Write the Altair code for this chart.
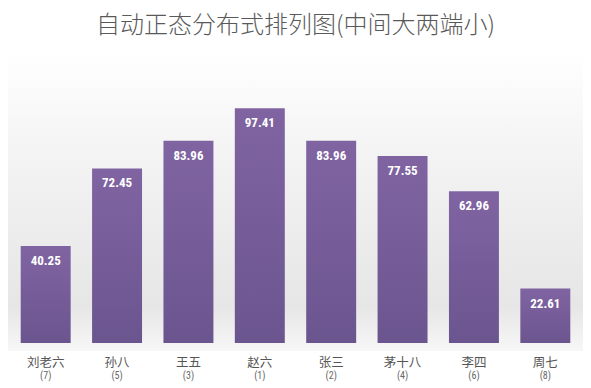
import altair as alt
import pandas as pd

names = ["刘老六", "孙八", "王五", "赵六", "张三", "茅十八", "李四", "周七"]
ranks = ["(7)", "(5)", "(3)", "(1)", "(2)", "(4)", "(6)", "(8)"]
values = [40.25, 72.45, 83.96, 97.41, 83.96, 77.55, 62.96, 22.61]

df = pd.DataFrame({"name": names, "rank": ranks, "value": values})

W, H = 571, 241

x = alt.X("name:N", sort=names,
          scale=alt.Scale(paddingInner=0.3, paddingOuter=0.15),
          axis=alt.Axis(title=None, domain=False, ticks=False, labelAngle=0,
                        labelPadding=13, labelFontSize=12.5, labelColor="#555555",
                        labelFont="Noto Sans CJK SC"))
y = alt.Y("value:Q", scale=alt.Scale(domain=[0, 100]), axis=None)

bg = alt.Chart(pd.DataFrame({"a": [0]})).mark_rect(
    color=alt.Gradient(gradient="linear", x1=0, x2=0, y1=0, y2=1,
                       stops=[alt.GradientStop(color="#ffffff", offset=0),
                              alt.GradientStop(color="#f3f3f3", offset=0.35),
                              alt.GradientStop(color="#e6e6e6", offset=0.85),
                              alt.GradientStop(color="#f7f7f7", offset=1)])
).encode(x=alt.value(-10), x2=alt.value(W + 10), y=alt.value(-50), y2=alt.value(H + 8))

bars = alt.Chart(df).mark_bar(
    color=alt.Gradient(gradient="linear", x1=0, x2=0, y1=0, y2=1,
                       stops=[alt.GradientStop(color="#8064a2", offset=0),
                              alt.GradientStop(color="#6b558f", offset=1)])
).encode(x=x, y=y)

labels = alt.Chart(df).mark_text(
    baseline="middle", dy=15, color="white", fontSize=13, fontWeight="bold",
    font="Roboto Condensed, Liberation Sans"
).encode(x=x, y=y, text=alt.Text("value:Q", format=".2f"))

rank_txt = alt.Chart(df).mark_text(
    baseline="middle", color="#666666", fontSize=10,
    font="Roboto Condensed, Liberation Sans"
).encode(x=x, y=alt.value(H + 33), text="rank:N")

chart = alt.layer(bg, bars, labels, rank_txt).properties(
    width=W, height=H,
    title=alt.TitleParams("自动正态分布式排列图(中间大两端小)", fontSize=24,
                          font="Noto Sans CJK SC", fontWeight=300,
                          color="#595959", anchor="middle", offset=14),
    autosize=alt.AutoSizeParams(type="none"),
    padding={"left": 2, "top": 94, "right": 2, "bottom": 40},
).configure_view(stroke=None).configure(background="white")

chart.save("out.html", embed_options={"renderer": "svg", "actions": False})
